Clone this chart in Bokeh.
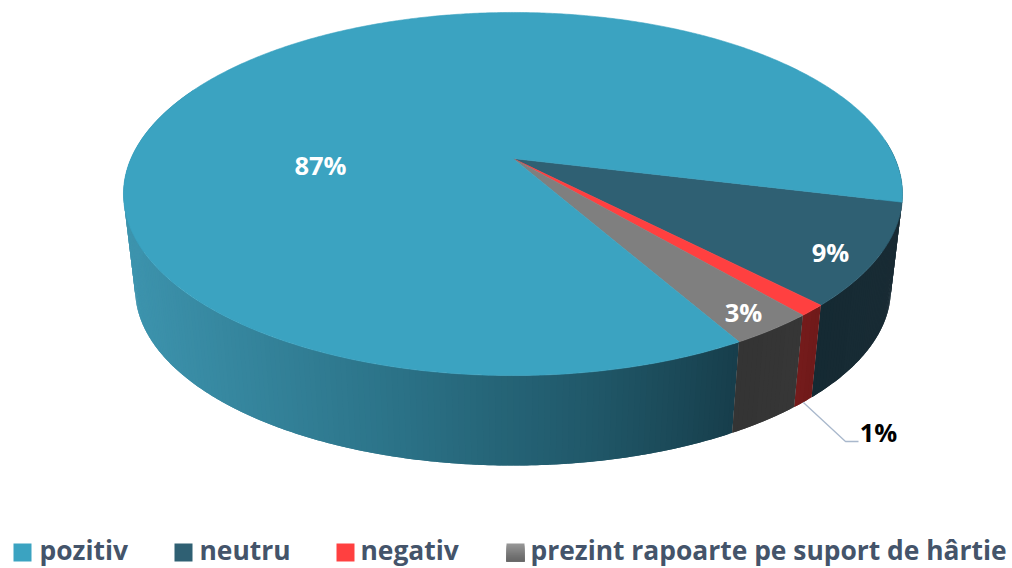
import numpy as np
from bokeh.plotting import figure
from bokeh.models import Range1d
from bokeh.core.properties import value
from bokeh.embed import file_html
from bokeh.resources import INLINE

categories = ["pozitiv", "neutru", "negativ", "prezint rapoarte pe suport de hârtie"]
values = [87, 9, 1, 3]
labels = ["87%", "9%", "1%", "3%"]
top_colors = ["#3BA3C1", "#2F6073", "#FF4040", "#7F7F7F"]

# projection of the tilted disc to page pixels
CX, CY, A, B, K = 512.5, 158.0, 382.0, 174.6, 0.1956
DROP, SHRINK = 96.5, 0.97
START = 13.8


def rim(theta):
    t = np.radians(theta)
    u, v = np.cos(t), np.sin(t)
    w = 1 - K * v
    return CX + A * u / w, CY + B * v / w


def low(theta):
    x, y = rim(theta)
    return CX + (x - CX) * SHRINK, CY + (y - CY) * SHRINK + DROP


def lerp_hex(stops, x):
    xs = [s[0] for s in stops]
    rgb = [np.interp(x, xs, [s[1][i] for s in stops]) for i in range(3)]
    return "#%02x%02x%02x" % tuple(int(round(c)) for c in rgb)


side_pos = [(120, (0x3D, 0x94, 0xAE)), (400, (0x2B, 0x72, 0x87)), (600, (0x20, 0x57, 0x68)), (740, (0x17, 0x3E, 0x4C))]
side_neu = [(810, (0x14, 0x2A, 0x33)), (900, (0x19, 0x2B, 0x34))]
side_red = [(790, (0x7A, 0x1C, 0x1C)), (820, (0x70, 0x1A, 0x1A))]
side_gry = [(730, (0x33, 0x33, 0x33)), (800, (0x36, 0x36, 0x36))]

p = figure(width=1012, height=568, output_backend="svg", toolbar_location=None,
           x_range=Range1d(0, 1012), y_range=Range1d(568, 0), min_border=0,
           outline_line_color=None)
p.axis.visible = False
p.grid.visible = False
p.background_fill_color = "white"
p.border_fill_color = "white"

order = [1, 2, 3, 0]  # clockwise on screen from the start angle
spans = {i: 360.0 * values[i] / sum(values) for i in order}
edges = {}
a = START
for i in order:
    edges[i] = (a, a + spans[i])
    a += spans[i]


def strip(t0, t1, stops):
    # each band overlaps the next one so that no seam shows through
    xs, ys, cs = [], [], []
    n = max(2, int(abs(t1 - t0) / 0.75))
    ts = np.linspace(t0, t1, n + 1)
    for k, a0 in enumerate(ts[:-1]):
        a1 = ts[min(k + 2, n)]
        band = np.linspace(a0, a1, 4)
        x0, y0 = rim(band)
        x1, y1 = low(band[::-1])
        xs.append(np.r_[x0, x1].tolist())
        ys.append(np.r_[y0, y1].tolist())
        cs.append(lerp_hex(stops, rim(a0)[0]))
    p.patches(xs, ys, fill_color=cs, line_color=None)


# sides: only the front arc is seen
strip(edges[0][0], 205, side_pos)
strip(edges[1][0] - 20, edges[1][1], side_neu)
strip(edges[2][0], edges[2][1], side_red)
strip(edges[3][0], edges[3][1], side_gry)

# top faces
for i in order:
    t0, t1 = edges[i]
    ts = np.linspace(t0, t1, max(4, int(spans[i] * 2)))
    x, y = rim(ts)
    p.patch(np.r_[CX, x], np.r_[CY, y], fill_color=top_colors[i],
            line_color=top_colors[i], line_width=0.6, line_join="round")

FONT = value("Open Sans")
lab_x = [320, 830, 878, 743]
lab_y = [164, 251, 431, 311]
lab_c = ["white", "white", "black", "white"]
p.text(lab_x, lab_y, text=labels, text_color=lab_c, text_font=FONT, text_font_style="bold",
       text_font_size="25.5px", text_align="center", text_baseline="middle")

# leader for the 1% label
lx, ly = low(sum(edges[2]) / 2)
p.line([lx, 845, 858], [ly, 441, 441], line_color="#A9B8CC", line_width=1.3)

# legend
sw_x = [13, 174, 336, 506]
tx_x = [39, 199, 360, 530]
leg_sw = ["#3BA3C1", "#2F6073", "#FF4040", "#7F7F7F"]
p.quad(left=sw_x[:3], right=[s + 18 for s in sw_x[:3]], top=[543] * 3, bottom=[561] * 3,
       fill_color=leg_sw[:3], line_color=None)
# the grey key fades from light to dark: each layer runs to the bottom of the key
grey_steps = ["#959595", "#8F8F8F", "#898989", "#838383", "#7D7D7D", "#777777", "#717171", "#6C6C6C", "#686868"]
for k, c in enumerate(grey_steps):
    p.quad(left=[sw_x[3]], right=[sw_x[3] + 18], top=[543 + 2 * k], bottom=[561],
           fill_color=c, line_color=None)
p.text(tx_x, [549] * 4, text=categories, text_color="#44546A", text_font=FONT,
       text_font_style="bold", text_font_size="26.4px", text_align="left", text_baseline="middle")

open("out.html", "w").write(file_html(p, INLINE))
